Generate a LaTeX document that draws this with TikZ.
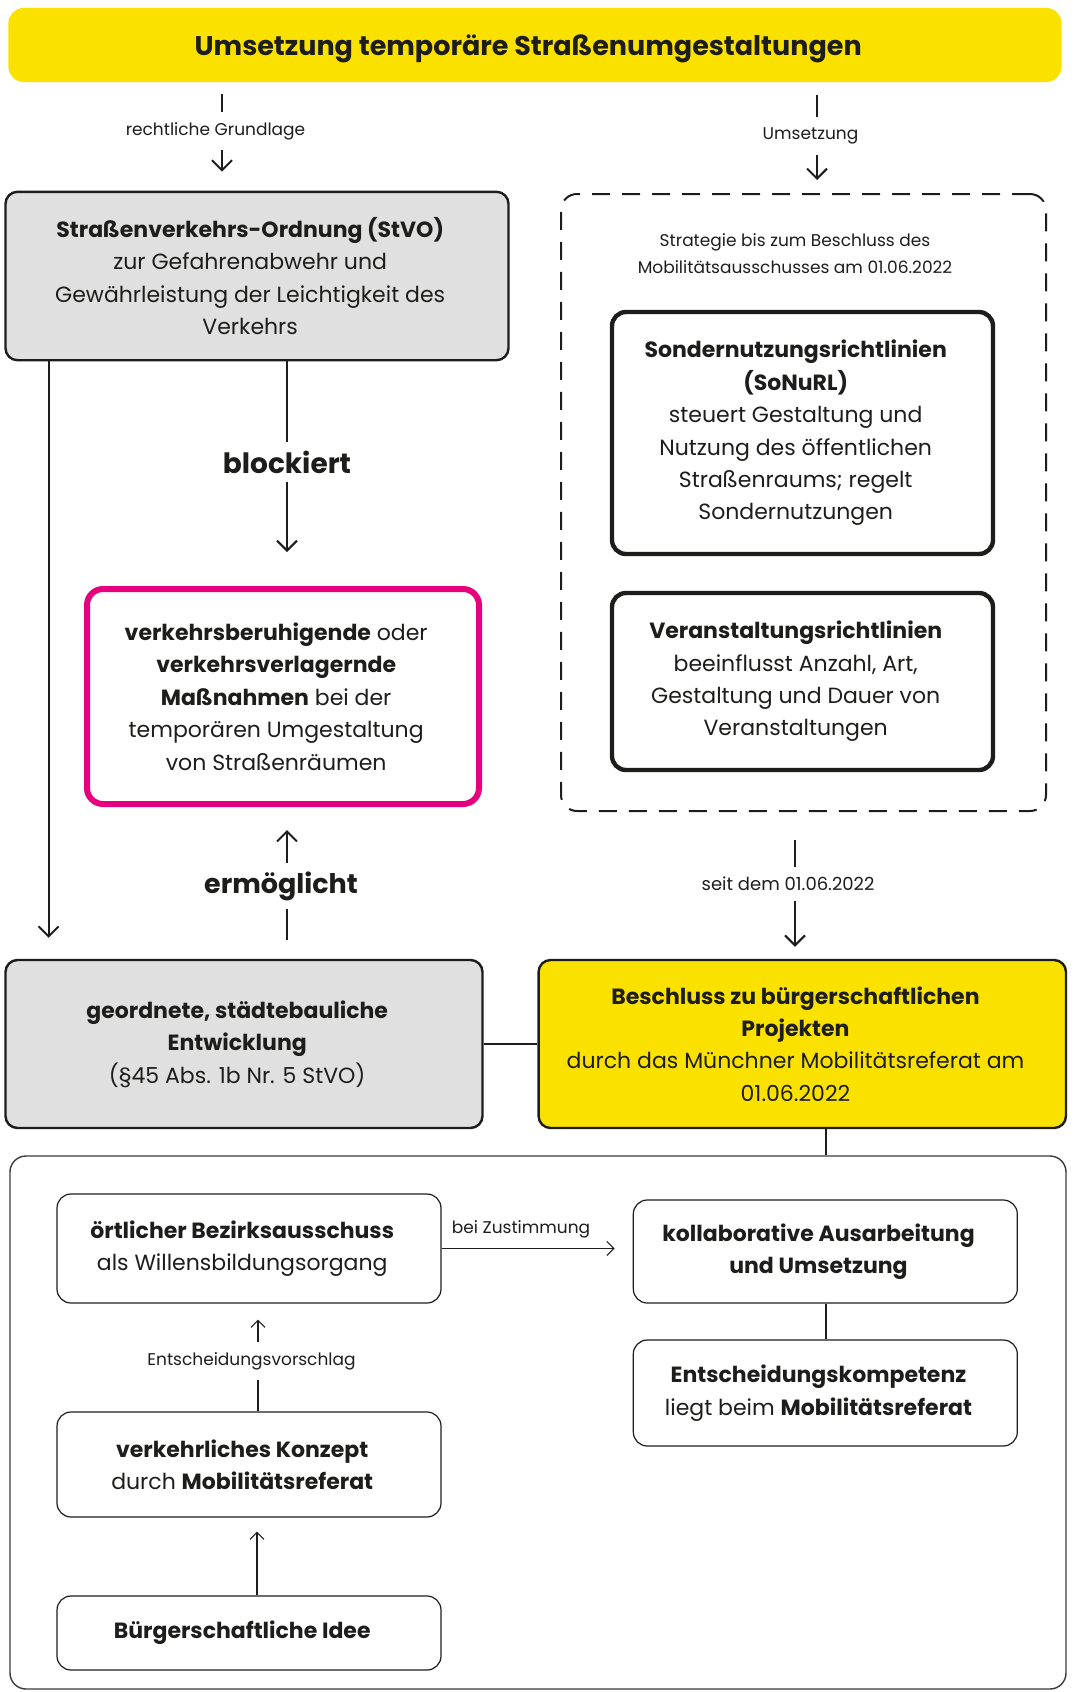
\documentclass[tikz,border=0pt]{standalone}
\usepackage{fontspec}
\setmainfont{Poppins}
\usetikzlibrary{arrows.meta}
\definecolor{ink}{HTML}{1D1D1B}
\definecolor{sunyellow}{HTML}{FBE100}
\definecolor{panelgrey}{HTML}{E0E0E0}
\definecolor{signalpink}{HTML}{E6007E}
\definecolor{framegrey}{HTML}{3A3A3A}

\tikzset{
  every node/.style={text=ink},
  conn/.style={draw=ink, line width=1pt},
  tip/.style={-{Straight Barb[length=5pt,width=10pt]}},
  fineconn/.style={draw=ink, line width=0.55pt},
  finetip/.style={-{Straight Barb[length=3.5pt,width=7pt]}},
  lbl/.style={font=\fontsize{8.5}{10}\selectfont, inner sep=5pt},
  biglbl/.style={font=\bfseries\fontsize{14}{16}\selectfont, inner sep=4pt},
  body/.style={align=center, font=\fontsize{11}{16.2}\selectfont},
  % box texts sit slightly left of the box centre
  inbox/.style={body, xshift=-3.4pt},
  titlebox/.style={fill=sunyellow, rounded corners=8pt},
  greybox/.style={draw=ink, line width=1.2pt, fill=panelgrey, rounded corners=6pt},
  yellowbox/.style={draw=ink, line width=1.2pt, fill=sunyellow, rounded corners=6pt},
  rulebox/.style={draw=ink, line width=2.2pt, fill=white, rounded corners=7pt},
  pinkbox/.style={draw=signalpink, line width=3pt, fill=white, rounded corners=8pt},
  stepbox/.style={draw=ink, line width=0.6pt, fill=white, rounded corners=7pt,
    minimum width=192pt},
  dashframe/.style={draw=ink, line width=1pt, dash pattern=on 9pt off 6pt, rounded corners=8pt},
  outerframe/.style={draw=framegrey, line width=0.7pt, rounded corners=8pt},
}

\begin{document}
\begin{tikzpicture}[x=0.5pt,y=-0.5pt]
\useasboundingbox (0,0) rectangle (1074,1692);

% headline
\node[titlebox, minimum width=526.7pt, minimum height=37.2pt] (title) at (535,45) {};
\node[inbox, yshift=-2pt, font=\bfseries\fontsize{13.5}{16}\selectfont] (title-t) at (title.center)
  {Umsetzung temporäre Straßenumgestaltungen};

% legal basis
\node[greybox, minimum width=251.5pt, minimum height=84.2pt] (stvo) at (257,276) {};
\node[inbox] (stvo-t) at (stvo.center)
  {\textbf{Straßenverkehrs-Ordnung (StVO)}\\zur Gefahrenabwehr und\\Gewährleistung der Leichtigkeit des\\Verkehrs};

% strategy frame
\node[dashframe, minimum width=242.5pt, minimum height=308.5pt] (strategy) at (803.5,502.5) {};
\node[align=center, font=\fontsize{8.5}{13.5}\selectfont] (stratcap) at (795,254)
  {Strategie bis zum Beschluss des\\Mobilitätsausschusses am 01.06.2022};
\node[rulebox, minimum width=190.5pt, minimum height=121pt] (sonurl) at (802.5,433) {};
\node[inbox] (sonurl-t) at (sonurl.center)
  {\textbf{Sondernutzungsrichtlinien}\\\textbf{(SoNuRL)}\\steuert Gestaltung und\\Nutzung des öffentlichen\\Straßenraums; regelt\\Sondernutzungen};
\node[rulebox, minimum width=190.5pt, minimum height=88.5pt] (vrl) at (802.5,681.5) {};
\node[inbox] (vrl-t) at (vrl.center)
  {\textbf{Veranstaltungsrichtlinien}\\beeinflusst Anzahl, Art,\\Gestaltung und Dauer von\\Veranstaltungen};

% measures
\node[pinkbox, minimum width=196pt, minimum height=107.5pt] (measures) at (283,696.5) {};
\node[inbox] (measures-t) at (measures.center)
  {\textbf{verkehrsberuhigende} oder\\\textbf{verkehrsverlagernde}\\\textbf{Maßnahmen} bei der\\temporären Umgestaltung\\von Straßenräumen};

% lower row
\node[greybox, minimum width=238.5pt, minimum height=84pt] (urban) at (244,1044) {};
\node[inbox] (urban-t) at (urban.center)
  {\textbf{geordnete, städtebauliche}\\\textbf{Entwicklung}\\(§45 Abs. 1b Nr. 5 StVO)};
\node[yellowbox, minimum width=263.7pt, minimum height=84pt] (decision) at (802.3,1044) {};
\node[inbox] (decision-t) at (decision.center)
  {\textbf{Beschluss zu bürgerschaftlichen}\\\textbf{Projekten}\\durch das Münchner Mobilitätsreferat am\\01.06.2022};

% process frame
\node[outerframe, minimum width=528pt, minimum height=266.5pt] (process) at (538,1422.5) {};
\node[stepbox, minimum height=54.5pt] (ba) at (249,1248.5) {};
\node[inbox] (ba-t) at (ba.center)
  {\textbf{örtlicher Bezirksausschuss}\\als Willensbildungsorgang};
\node[stepbox, minimum height=51.5pt] (collab) at (825.3,1251.5) {};
\node[inbox] (collab-t) at (collab.center)
  {\textbf{kollaborative Ausarbeitung}\\\textbf{und Umsetzung}};
\node[stepbox, minimum height=53pt] (authority) at (825.3,1393) {};
\node[inbox] (authority-t) at (authority.center)
  {\textbf{Entscheidungskompetenz}\\liegt beim \textbf{Mobilitätsreferat}};
\node[stepbox, minimum height=52.5pt] (concept) at (249,1464.5) {};
\node[inbox] (concept-t) at (concept.center)
  {\textbf{verkehrliches Konzept}\\durch \textbf{Mobilitätsreferat}};
\node[stepbox, minimum height=37pt] (idea) at (249,1633) {};
\node[inbox] (idea-t) at (idea.center)
  {\textbf{Bürgerschaftliche Idee}};

% connector axes
\coordinate (basisaxis) at (222,0);
\coordinate (implaxis) at (817,0);
\coordinate (blockaxis) at (287,0);
\coordinate (enableaxis) at (287,0);
\coordinate (sinceaxis) at (795,0);
\coordinate (proposalaxis) at (258,0);
\coordinate (leftrail) at (48.6,0);
\coordinate (handover) at (826,0);
\coordinate (ideaaxis) at (257,0);

% connector labels
\node[lbl] (lbasis) at (215.5,131) {rechtliche Grundlage};
\node[lbl] (limpl) at (810.5,136) {Umsetzung};
\node[biglbl] (lblock) at (287,462) {blockiert};
\node[biglbl, font=\bfseries\fontsize{13.5}{16}\selectfont] (lenable) at (281,886) {ermöglicht};
\node[lbl, font=\fontsize{9}{10}\selectfont] (lsince) at (788,884) {seit dem 01.06.2022};
\node[lbl, inner sep=3pt] (lvote) at (521,1229) {bei Zustimmung};
\node[lbl] (lproposal) at (251.5,1361) {Entscheidungsvorschlag};

% headline to both branches
\draw[conn, shorten <=5.5pt] (title.south -| basisaxis) -- (lbasis.north -| basisaxis);
\draw[conn, tip, shorten >=9.5pt] (lbasis.south -| basisaxis) -- (stvo.north -| basisaxis);
\draw[conn, shorten <=6pt] (title.south -| implaxis) -- (limpl.north -| implaxis);
\draw[conn, tip, shorten >=6.5pt] (limpl.south -| implaxis) -- (strategy.north -| implaxis);

% StVO blocks the measures
\draw[conn] (stvo.south -| blockaxis) -- (lblock.north -| blockaxis);
\draw[conn, tip, shorten >=17pt] (lblock.south -| blockaxis) -- (measures.north -| blockaxis);

% StVO down to urban development
\draw[conn, tip, shorten >=10.5pt] (stvo.south -| leftrail) -- (urban.north -| leftrail);

% urban development enables the measures
\draw[conn, shorten <=9.5pt] (urban.north -| enableaxis) -- (lenable.south -| enableaxis);
\draw[conn, tip, shorten >=11.5pt] (lenable.north -| enableaxis) -- (measures.south -| enableaxis);

% strategy to decision
\draw[conn, shorten <=14pt] (strategy.south -| sinceaxis) -- (lsince.north -| sinceaxis);
\draw[conn, tip, shorten >=6pt] (lsince.south -| sinceaxis) -- (decision.north -| sinceaxis);

% link between the two lower boxes
\draw[conn] (urban.east) -- (decision.west);

% decision into the process
\draw[fineconn] (decision.south -| handover) -- (process.north -| handover);

% process steps
\draw[fineconn, finetip, shorten >=9pt] (ba.east) -- (ba.east -| collab.west);
\draw[fineconn] (collab.south -| handover) -- (authority.north -| handover);
\draw[fineconn] (concept.north -| proposalaxis) -- (lproposal.south -| proposalaxis);
\draw[fineconn, finetip, shorten >=8pt] (lproposal.north -| proposalaxis) -- (ba.south -| proposalaxis);
\draw[fineconn, finetip, shorten >=7pt] (idea.north -| ideaaxis) -- (concept.south -| ideaaxis);
\end{tikzpicture}
\end{document}
